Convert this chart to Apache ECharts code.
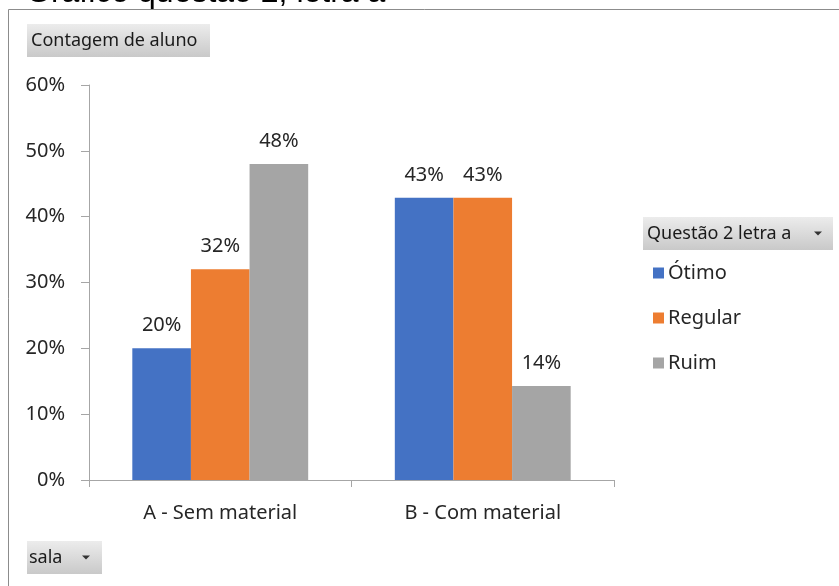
<!DOCTYPE html>
<html>
<head>
<meta charset="utf-8">
<script src="https://cdn.jsdelivr.net/npm/echarts@6/dist/echarts.min.js"></script>
<style>
html,body{margin:0;padding:0;background:#fff;}
#c{width:839px;height:586px;}
</style>
</head>
<body>
<div id="c"></div>
<script>
var categories = ['A - Sem material', 'B - Com material'];
var seriesNames = ['Ótimo', 'Regular', 'Ruim'];
var otimo = [0.20, 0.4286];
var regular = [0.32, 0.4286];
var ruim = [0.48, 0.1429];
var yTicks = [0, 0.1, 0.2, 0.3, 0.4, 0.5, 0.6];
var colors = ['#4472C4', '#ED7D31', '#A5A5A5'];

var FONT = 'Noto Sans';
var chart = echarts.init(document.getElementById('c'), null, {renderer: 'canvas'});

function pct(v) { return Math.round(v * 100) + '%'; }

var seriesData = [otimo, regular, ruim];
var series = seriesNames.map(function (n, i) {
  return {
    name: n,
    type: 'bar',
    data: seriesData[i],
    barGap: '0%',
    barCategoryGap: '33%',
    itemStyle: {color: colors[i]},
    label: {
      show: true,
      position: 'top',
      distance: 13,
      formatter: function (p) { return pct(p.value); },
      color: '#262626',
      fontFamily: FONT,
      fontSize: 20
    }
  };
});

function btn(x, y, w, h, label, tx, arrowX) {
  var els = [{
    type: 'rect',
    shape: {x: x, y: y, width: w, height: h},
    style: {
      fill: new echarts.graphic.LinearGradient(0, 0, 0, 1, [
        {offset: 0, color: '#ececec'},
        {offset: 1, color: '#c9c9c9'}
      ]),
      stroke: null
    },
    z: 10
  }, {
    type: 'text',
    x: x + tx, y: y + h / 2,
    style: {text: label, fill: '#1a1a1a', font: '18px "Noto Sans"', verticalAlign: 'middle', align: 'left'},
    z: 11
  }];
  if (arrowX) {
    els.push({
      type: 'polygon',
      shape: {points: [[arrowX - 4, y + h / 2 - 2], [arrowX + 4, y + h / 2 - 2], [arrowX, y + h / 2 + 2]]},
      style: {fill: '#333'},
      z: 11
    });
  }
  return els;
}

var graphics = [
  {
    type: 'text', x: 26, y: 9,
    style: {text: 'Gráfico questão 2, letra a', font: '32px "Liberation Sans"', fill: '#000', verticalAlign: 'bottom', align: 'left'},
    z: -3
  },
  {
    type: 'rect', shape: {x: 8.5, y: 9.5, width: 840, height: 600},
    style: {fill: '#fff', stroke: '#8c8c8c', lineWidth: 1},
    z: -2
  }
].concat(btn(27, 24, 183, 33, 'Contagem de aluno', 4))
 .concat(btn(643, 217, 190, 33, 'Questão 2 letra a', 4, 818))
 .concat(btn(27, 541, 75, 33, 'sala', 2, 86));

chart.setOption({
  animation: false,
  backgroundColor: '#fff',
  textStyle: {fontFamily: FONT},
  grid: {left: 89, right: 225, top: 85, bottom: 106, containLabel: false},
  legend: {
    data: seriesNames,
    orient: 'vertical',
    left: 653,
    top: 263,
    padding: 0,
    itemGap: 25,
    itemWidth: 11,
    itemHeight: 11,
    icon: 'rect',
    textStyle: {fontFamily: FONT, fontSize: 20, color: '#262626', padding: [0, 0, 0, -1]}
  },
  xAxis: {
    type: 'category',
    data: categories,
    axisLine: {lineStyle: {color: '#a6a6a6'}},
    axisTick: {show: true, length: 7, lineStyle: {color: '#a6a6a6'}},
    axisLabel: {fontFamily: FONT, fontSize: 20, color: '#262626', margin: 23}
  },
  yAxis: {
    type: 'value',
    min: yTicks[0],
    max: yTicks[yTicks.length - 1],
    interval: 0.1,
    splitLine: {show: false},
    axisLine: {show: true, lineStyle: {color: '#a6a6a6'}},
    axisTick: {show: true, length: 8, lineStyle: {color: '#a6a6a6'}},
    axisLabel: {fontFamily: FONT, fontSize: 20, color: '#262626', margin: 24, formatter: function (v) { return pct(v); }}
  },
  graphic: graphics,
  series: series
});
</script>
</body>
</html>
